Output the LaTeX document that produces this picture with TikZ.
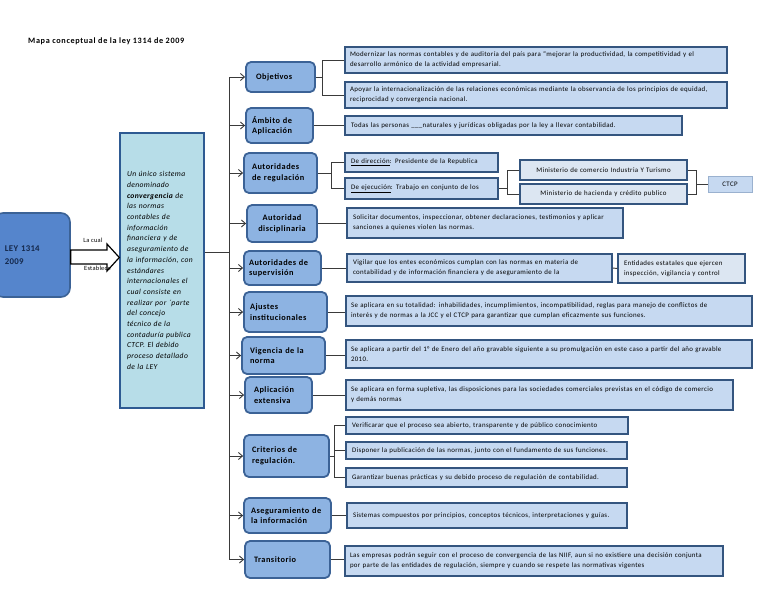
\documentclass[tikz,border=0pt]{standalone}
\usepackage{fontspec}
\setmainfont{Carlito}
\usetikzlibrary{arrows.meta,calc}
\definecolor{catfill}{HTML}{8DB3E2}
\definecolor{catdraw}{HTML}{3B6296}
\definecolor{rfill}{HTML}{C6D9F1}
\definecolor{rdraw}{HTML}{34557F}
\definecolor{lfill}{HTML}{DCE6F2}
\definecolor{cenfill}{HTML}{B7DDE8}
\definecolor{cendraw}{HTML}{2E5A92}
\definecolor{leyfill}{HTML}{5585CC}
\definecolor{leytext}{HTML}{14284B}
\definecolor{lcol}{HTML}{3A3A3A}
\newcommand\ls[1]{\addfontfeature{LetterSpace=#1}}
\tikzset{
  cat/.style={draw=catdraw, line width=1.8pt, fill=catfill, rounded corners=5pt,
    font=\fontsize{8.3}{10.5}\selectfont\bfseries\ls{6}, text=black, align=left, inner ysep=0pt},
  catc/.style={cat, align=center},
  rbox/.style={draw=rdraw, line width=1.4pt, fill=rfill,
    font=\fontsize{6.9}{10}\selectfont\ls{5}, text=black, align=left, inner ysep=0pt},
  lbox/.style={rbox, fill=lfill, align=center},
  cenbox/.style={draw=cendraw, line width=1.4pt, fill=cenfill,
    font=\fontsize{7.6}{10.7}\selectfont\itshape\ls{5}, text=black, align=left, inner ysep=0pt},
  conn/.style={draw=lcol, line width=0.9pt},
  busarrow/.style={conn, -{Straight Barb[length=4pt,width=7pt]}},
  small/.style={font=\fontsize{6.4}{7}\selectfont\ls{4}, inner sep=0pt},
}
% \bx{style}{xsep}{name}{cx}{cy}{w}{h}{text}
\newcommand\bx[8]{%
  \pgfmathsetmacro\tw{#6-2*#2}%
  \node[#1, inner xsep=#2pt, minimum width=#6pt, minimum height=#7pt, text width=\tw pt] (#3) at (#4,#5) {#8};}
\begin{document}
\begin{tikzpicture}[x=1pt,y=-1pt]
\useasboundingbox (0,0) rectangle (768,594);
\fill[white] (0,0) rectangle (768,594);

% title
\node[font=\fontsize{8.2}{9}\selectfont\bfseries\ls{8}, anchor=west, inner sep=0pt] (title) at (28,41) {Mapa conceptual de la ley 1314 de 2009};

% LEY box
\bx{draw=catdraw, line width=1.6pt, fill=leyfill, rounded corners=9pt, font=\fontsize{8.8}{13}\selectfont\bfseries\ls{3}, text=leytext, align=left}{11}{ley}{32}{255}{76}{84}{LEY 1314\\2009}

% central box
\bx{cenbox}{7}{cen}{162}{270.5}{84}{275}{Un único sistema\\denominado\\\textbf{convergencia} de\\las normas\\contables de\\información\\financiera y de\\aseguramiento de\\la información, con\\estándares\\internacionales el\\cual consiste en\\realizar por ´parte\\del concejo\\técnico de la\\contaduría publica\\CTCP. El debido\\proceso detallado\\de la LEY}

% block arrow
\draw[fill=white, line width=1.2pt, line join=miter]
  (ley.east |- 0,250) -- (107,250) -- (107,244) -- (cen.west |- 0,257.5) -- (107,271) -- (107,264) -- (ley.east |- 0,264) -- cycle;
\node[small] (lacual) at (93,240) {La cual};
\node[small] (estab) at (97.5,268) {Establece};

% category boxes
\bx{cat}{10}{obj}{280.5}{77}{69}{30}{Objetivos}
\bx{cat}{6}{amb}{279.5}{125.5}{67}{35}{Ámbito de\\Aplicación}
\bx{cat}{8}{reg}{280.5}{173}{73}{40}{Autoridades\\de regulación}
\bx{catc}{3}{dis}{282}{223.5}{70}{37}{Autoridad\\disciplinaria}
\bx{cat}{5}{sup}{282.5}{268}{77}{34}{Autoridades de\\supervisión}
\bx{cat}{6}{aju}{285.5}{312}{83}{40}{Ajustes\\institucionales}
\bx{cat}{8}{vig}{283.5}{355.5}{83}{37}{Vigencia de la\\norma}
\bx{cat}{9}{apl}{278.5}{395}{67}{36}{Aplicación\\extensiva}
\bx{cat}{8}{cri}{286.5}{456}{85}{42}{Criterios de\\regulación.}
\bx{cat}{7}{ase}{287.5}{515.5}{87}{35}{Aseguramiento de\\la información}
\bx{cat}{9}{tra}{287.5}{559.5}{85}{37}{Transitorio}

% right boxes
\bx{rbox}{5}{objA}{536}{60}{382}{26}{ Modernizar las normas contables y de auditoría del país para “mejorar la productividad, la competitividad y el\\desarrollo armónico de la actividad empresarial.}
\bx{rbox}{5}{objB}{536}{95}{382}{26}{Apoyar la internacionalización de las relaciones económicas mediante la observancia de los principios de equidad,\\reciprocidad y convergencia nacional.}
\bx{rbox}{6}{ambA}{513.5}{125.5}{337}{19}{Todas las personas \_\_\_naturales y jurídicas obligadas por la ley a llevar contabilidad.}
\bx{rbox}{6}{dir}{421.5}{162.5}{153}{19}{\underline{De dirección}: Presidente de la Republica}
\bx{rbox}{6}{eje}{421.5}{188.5}{153}{21}{\underline{De ejecución}: Trabajo en conjunto de los}
\bx{lbox}{4}{mc}{603.5}{170}{167}{20}{Ministerio de comercio Industria Y Turismo}
\bx{lbox}{4}{mh}{603.5}{194}{167}{20}{Ministerio de hacienda y crédito publico}
\bx{lbox, draw=rfill!70!rdraw, line width=0.8pt, fill=rfill}{2}{ctcp}{730}{184}{44}{16}{CTCP}
\bx{rbox}{6}{disA}{485}{223}{276}{30}{Solicitar documentos, inspeccionar, obtener declaraciones, testimonios y aplicar\\sanciones a quienes violen las normas.}
\bx{rbox}{6}{supA}{479.5}{268}{265}{28}{Vigilar que los entes económicos cumplan con las normas en materia de\\contabilidad y de información financiera y de aseguramiento de la}
\bx{rbox, fill=lfill}{6}{ent}{681.5}{268.5}{127}{29}{Entidades estatales que ejercen\\inspección, vigilancia y control}
\bx{rbox}{5}{ajuA}{549}{311}{406}{30}{Se aplicara en su totalidad: inhabilidades, incumplimientos, incompatibilidad, reglas para manejo de conflictos de\\interés y de normas a la JCC y el CTCP para garantizar que cumplan eficazmente sus funciones.}
\bx{rbox}{5}{vigA}{549}{354}{406}{28}{Se aplicara a partir del 1° de Enero del año gravable siguiente a su promulgación en este caso a partir del año gravable\\2010.}
\bx{rbox}{5}{aplA}{539.5}{395}{387}{30}{Se aplicara en forma supletiva, las disposiciones para las sociedades comerciales previstas en el código de comercio\\y demás normas}
\bx{rbox}{6}{cri1}{487}{425.5}{282}{17}{Verificarar que el proceso sea abierto, transparente y de público conocimiento}
\bx{rbox}{6}{cri2}{486.5}{450.5}{281}{17}{Disponer la publicación de las normas, junto con el fundamento de sus funciones.}
\bx{rbox}{6}{cri3}{486.5}{477.5}{281}{19}{Garantizar buenas prácticas y su debido proceso de regulación de contabilidad.}
\bx{rbox}{6}{aseA}{487}{515.5}{280}{25}{Sistemas compuestos por principios, conceptos técnicos, interpretaciones y guías.}
\bx{rbox}{5}{traA}{534}{561}{378}{30}{Las empresas podrán seguir con el proceso de convergencia de las NIIF, aun si no existiere una decisión conjunta\\por parte de las entidades de regulación, siempre y cuando se respete las normativas vigentes}

% bus
\coordinate (bx) at (229,0);
\coordinate (bj) at (229,252);
\draw[conn] (cen.east |- bj) -- (bj);
\draw[conn] (bx |- obj.west) -- (bx |- tra.west);
\foreach \n in {obj,amb,reg,dis,sup,aju,vig,apl,cri,ase,tra}
  \draw[busarrow] (bx |- \n.west) -- (\n.west);

% connectors
\draw[conn] (obj.east) -- ++(7,0) coordinate (ob);
\draw[conn] (objA.west) -| (ob) |- (objB.west);
\draw[conn] (amb.east) -- (amb.east -| ambA.west);
\draw[conn] (reg.east) -- ++(14,0) coordinate (rb);
\draw[conn] (dir.west) -| (rb) |- (eje.west);
\draw[conn] (eje.east) -- ++(9,0) coordinate (eb);
\draw[conn] (mc.west) -| (eb) |- (mh.west);
\draw[conn] (ctcp.west) -- ++(-11,0) coordinate (cb);
\draw[conn] (mc.east) -| (cb) |- (mh.east);
\draw[conn] (dis.east) -- (dis.east -| disA.west);
\draw[conn] (sup.east) -- (sup.east -| supA.west);
\draw[conn] (supA.east) -- (ent.west);
\draw[conn] (aju.east) -- (aju.east -| ajuA.west);
\draw[conn] (vig.east) -- (vig.east -| vigA.west);
\draw[conn] (apl.east) -- (apl.east -| aplA.west);
\draw[conn] (cri.east) -- ++(5,0) coordinate (crb);
\draw[conn] (cri1.west) -| (crb) |- (cri3.west);
\draw[conn] (crb |- cri2.west) -- (cri2.west);
\draw[conn] (ase.east) -- (ase.east -| aseA.west);
\draw[conn] (tra.east) -- (tra.east -| traA.west);
\end{tikzpicture}
\end{document}
